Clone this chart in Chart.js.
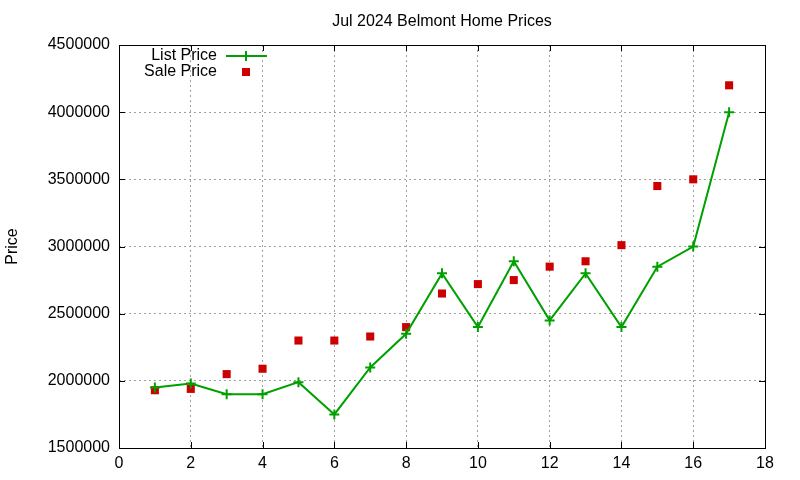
<!DOCTYPE html>
<html>
<head>
<meta charset="utf-8">
<script src="https://cdn.jsdelivr.net/npm/chart.js@4.4.1/dist/chart.umd.min.js"></script>
<style>
  html, body { margin: 0; padding: 0; background: #fff; }
  #wrap { width: 800px; height: 480px; }
</style>
</head>
<body>
<div id="wrap"><canvas id="myChart" width="800" height="480"></canvas></div>
<script>
// data
const listingNo = [1, 2, 3, 4, 5, 6, 7, 8, 9, 10, 11, 12, 13, 14, 15, 16, 17];
const listPrice = [1950000, 1980000, 1900000, 1900000, 1990000, 1750000, 2100000, 2350000, 2800000,
                   2400000, 2890000, 2450000, 2800000, 2400000, 2850000, 3000000, 4000000];
const salePrice = [1930000, 1940000, 2050000, 2090000, 2300000, 2300000, 2330000, 2400000, 2650000,
                   2720000, 2750000, 2850000, 2890000, 3010000, 3450000, 3500000, 4200000];
const xTicks = [0, 2, 4, 6, 8, 10, 12, 14, 16, 18];
const yTicks = [1500000, 2000000, 2500000, 3000000, 3500000, 4000000, 4500000];

const titleText = 'Jul 2024 Belmont Home Prices';
const green = '#00a000';
const red = '#cc0000';
const fontFamily = '"Liberation Sans", Arial, sans-serif';

// frame, inward ticks, title and legend in the gnuplot manner
const gnuplotBits = {
    id: 'gnuplotBits',
    afterDraw(chart) {
        const ctx = chart.ctx;
        const a = chart.chartArea;
        const xs = chart.scales.x;
        const ys = chart.scales.y;
        ctx.save();
        ctx.strokeStyle = '#000';
        ctx.lineWidth = 1;
        ctx.setLineDash([]);
        ctx.strokeRect(a.left + 0.5, a.top + 0.5, a.right - a.left, a.bottom - a.top);

        const tick = 6;
        ctx.beginPath();
        xTicks.forEach(v => {
            const px = Math.round(xs.getPixelForValue(v)) + 0.5;
            ctx.moveTo(px, a.bottom); ctx.lineTo(px, a.bottom - tick);
            ctx.moveTo(px, a.top); ctx.lineTo(px, a.top + tick);
        });
        yTicks.forEach(v => {
            const py = Math.round(ys.getPixelForValue(v)) + 0.5;
            ctx.moveTo(a.left, py); ctx.lineTo(a.left + tick, py);
            ctx.moveTo(a.right, py); ctx.lineTo(a.right - tick, py);
        });
        ctx.stroke();

        // title centred over the plot area
        ctx.fillStyle = '#000';
        ctx.font = '16px ' + fontFamily;
        ctx.textAlign = 'center';
        ctx.textBaseline = 'middle';
        ctx.fillText(titleText, (a.left + a.right) / 2, 22);

        // legend
        ctx.textAlign = 'right';
        ctx.fillText(chart.data.datasets[0].label, 217, 56);
        ctx.fillText(chart.data.datasets[1].label, 217, 72);

        ctx.strokeStyle = green;
        ctx.lineWidth = 2;
        ctx.beginPath();
        ctx.moveTo(226, 56); ctx.lineTo(267, 56);
        ctx.moveTo(246, 51); ctx.lineTo(246, 61);
        ctx.stroke();

        ctx.fillStyle = red;
        ctx.fillRect(242, 68, 8, 8);
        ctx.restore();
    }
};

const ctx = document.getElementById('myChart').getContext('2d');
const pricesChart = new Chart(ctx, {
    type: 'line',
    data: {
        datasets: [{
            label: 'List Price',
            data: listingNo.map((n, i) => ({ x: n, y: listPrice[i] })),
            borderColor: green,
            backgroundColor: green,
            borderWidth: 2,
            pointStyle: 'cross',
            pointRadius: 5,
            pointBorderWidth: 2,
            pointHoverRadius: 5,
            tension: 0,
            fill: false
        }, {
            label: 'Sale Price',
            data: listingNo.map((n, i) => ({ x: n, y: salePrice[i] })),
            showLine: false,
            borderColor: red,
            backgroundColor: red,
            pointStyle: 'rect',
            pointRadius: 5.7,
            pointBorderWidth: 0,
            pointHoverRadius: 5.7
        }]
    },
    options: {
        responsive: false,
        animation: false,
        devicePixelRatio: 1,
        layout: { padding: { left: 0, right: 35, top: 45, bottom: 0 } },
        plugins: {
            legend: { display: false },
            title: { display: false },
            tooltip: { enabled: false }
        },
        scales: {
            x: {
                type: 'linear',
                min: 0,
                max: 18,
                afterBuildTicks: scale => { scale.ticks = xTicks.map(v => ({ value: v })); },
                afterFit: scale => { scale.height = 32; },
                ticks: {
                    color: '#000',
                    padding: 6,
                    font: { family: fontFamily, size: 16 },
                    callback: v => String(v)
                },
                grid: { color: '#a0a0a0', drawTicks: false },
                border: { display: false, dash: [2, 3] }
            },
            y: {
                type: 'linear',
                min: 1500000,
                max: 4500000,
                afterBuildTicks: scale => { scale.ticks = yTicks.map(v => ({ value: v })); },
                afterFit: scale => { scale.width = 119; },
                ticks: {
                    color: '#000',
                    padding: 9,
                    font: { family: fontFamily, size: 16 },
                    callback: v => String(v)
                },
                title: {
                    display: true,
                    text: 'Price',
                    color: '#000',
                    padding: { top: 3, bottom: 0 },
                    font: { family: fontFamily, size: 16 }
                },
                grid: { color: '#a0a0a0', drawTicks: false },
                border: { display: false, dash: [2, 3] }
            }
        }
    },
    plugins: [gnuplotBits]
});
</script>
</body>
</html>
